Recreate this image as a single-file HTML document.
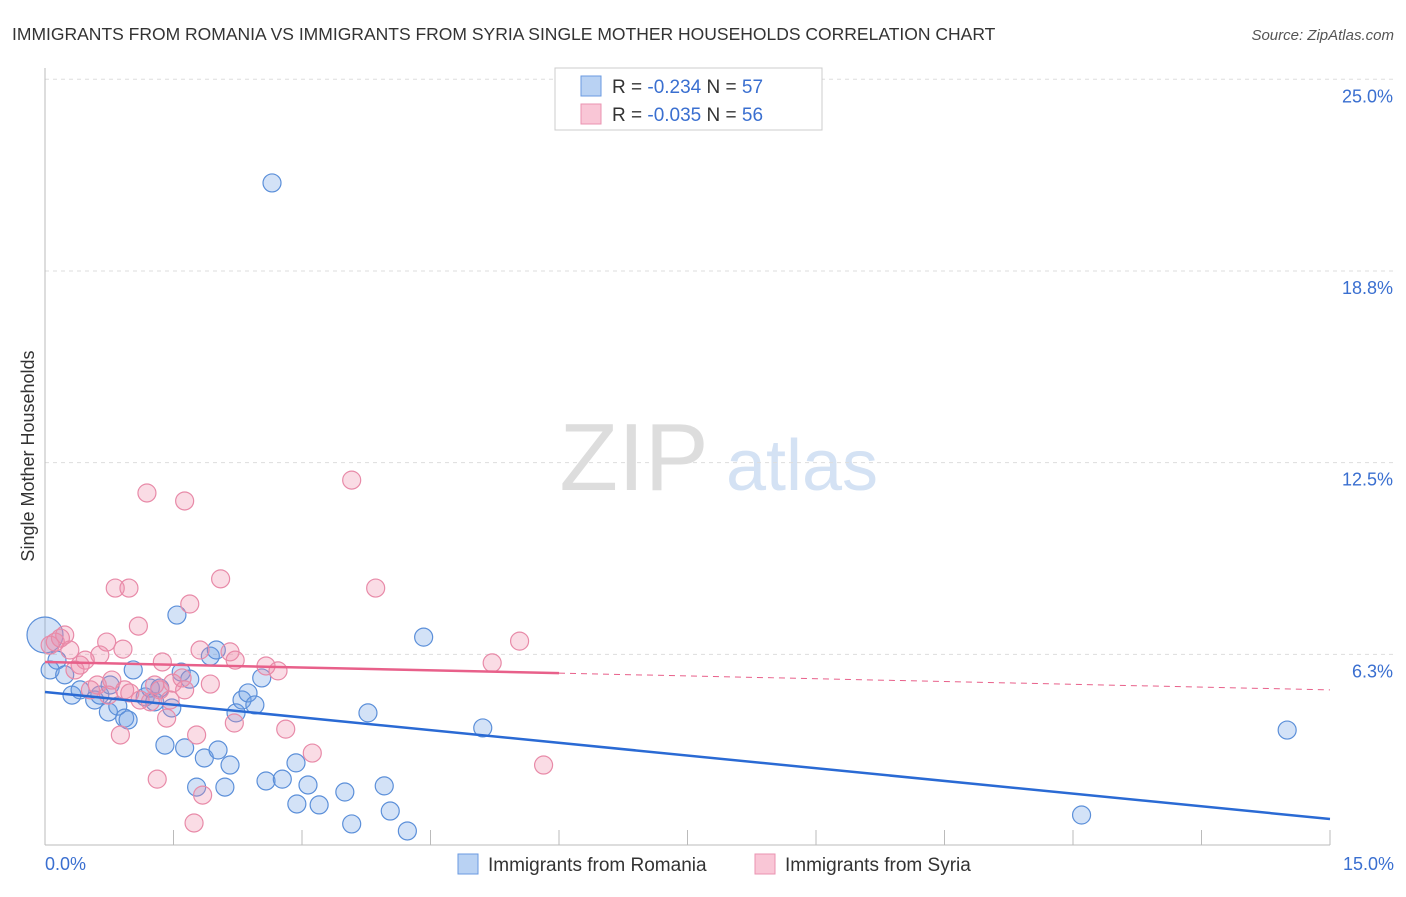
<!DOCTYPE html>
<html><head><meta charset="utf-8"><style>
body{margin:0;background:#fff;font-family:"Liberation Sans",sans-serif;}
svg text{font-family:"Liberation Sans",sans-serif;}
</style></head><body>
<svg width="1406" height="892" xmlns="http://www.w3.org/2000/svg">
<text x="12" y="40" font-size="17.5" fill="#333">IMMIGRANTS FROM ROMANIA VS IMMIGRANTS FROM SYRIA SINGLE MOTHER HOUSEHOLDS CORRELATION CHART</text>
<text x="1394" y="40" font-size="15" fill="#555" text-anchor="end" font-style="italic">Source: ZipAtlas.com</text>
<g>
<text x="634" y="490" font-size="96" fill="#ddd" text-anchor="middle" font-family="Liberation Serif, serif">ZIP</text>
<text x="802" y="490" font-size="72" fill="#d4e2f4" text-anchor="middle">atlas</text>
</g>
<g id="grid"></g>
<g id="axes"></g>
<g id="marks"></g>
<g>
<rect x="555" y="68" width="267" height="62" fill="#fff" stroke="#ccc"/>
<rect x="581" y="76" width="20" height="20" fill="#b9d2f3" stroke="#6a9ae0"/>
<rect x="581" y="104" width="20" height="20" fill="#f9c6d6" stroke="#ea93b0"/>
<text x="612" y="93" font-size="19" fill="#333">R = <tspan fill="#3a6fd0">-0.234</tspan>    N = <tspan fill="#3a6fd0">57</tspan></text>
<text x="612" y="121" font-size="19" fill="#333">R = <tspan fill="#3a6fd0">-0.035</tspan>    N = <tspan fill="#3a6fd0">56</tspan></text>
</g>
<g>
<rect x="458" y="854" width="20" height="20" fill="#b9d2f3" stroke="#6a9ae0"/>
<text x="488" y="871" font-size="19" fill="#333">Immigrants from Romania</text>
<rect x="755" y="854" width="20" height="20" fill="#f9c6d6" stroke="#ea93b0"/>
<text x="785" y="871" font-size="19" fill="#333">Immigrants from Syria</text>
</g>
<text transform="translate(34,456) rotate(-90)" font-size="18" fill="#333" text-anchor="middle">Single Mother Households</text>
</svg>
<script>
const yTicks=[6.25,12.5,18.75,25];
const yTickLabels=["6.3%","12.5%","18.8%","25.0%"];
const romaniaX=[2.65,0,0.06,0.14,0.23,0.315,0.41,0.58,0.64,0.74,0.85,0.93,0.97,1.03,0.76,1.17,1.23,1.28,1.34,1.40,1.48,1.54,1.59,1.63,1.69,1.77,1.86,1.93,2.00,2.02,2.10,2.16,2.23,2.30,2.37,2.45,2.53,2.58,2.77,2.93,2.94,3.07,3.20,3.50,3.58,3.96,4.03,4.23,3.77,4.42,5.11,12.10,14.50];
const romaniaY=[21.62,6.88,5.74,6.06,5.58,4.92,5.09,4.76,4.92,4.37,4.56,4.17,4.11,5.74,5.25,4.86,5.15,4.70,5.15,3.29,4.50,7.53,5.67,3.20,5.44,1.92,2.87,6.19,6.39,3.13,1.92,2.64,4.34,4.76,4.99,4.60,5.48,2.12,2.18,2.71,1.37,1.99,1.34,1.76,0.72,1.96,1.14,0.49,4.34,6.81,3.85,1.01,3.78];
const syriaX=[1.19,1.63,3.58,0.82,0.98,2.05,3.86,1.69,1.09,5.54,0.72,0.91,0.23,0.12,0.29,0.64,0.47,0.41,1.37,1.81,2.16,2.58,2.72,5.22,1.93,1.49,1.60,0.78,0.61,0.93,1.11,1.46,0.88,1.42,1.77,2.21,2.81,3.12,1.31,1.84,1.74,5.82,0.06,0.18,0.35,0.53,0.99,1.34,1.28,0.74,1.23,1.63,2.22];
const syriaY=[11.51,11.25,11.93,8.41,8.41,8.71,8.41,7.89,7.17,6.68,6.65,6.42,6.88,6.65,6.39,6.23,6.06,5.90,6.00,6.39,6.33,5.87,5.71,5.97,5.28,5.31,5.48,5.41,5.25,5.09,4.76,4.76,3.62,4.17,3.62,4.01,3.81,3.03,2.18,1.66,0.75,2.64,6.55,6.78,5.74,5.09,4.99,5.09,5.25,4.92,4.70,5.09,6.06];
const romaniaTrend=[5.02,0.88];
const syriaTrend=[6.0,5.09];
const syriaSolidEnd=6.0;

const NS="http://www.w3.org/2000/svg";
const X=v=>45+v/15*1285;
const Y=v=>846-v*30.67;
function mk(t,a,p){const e=document.createElementNS(NS,t);for(const k in a)e.setAttribute(k,a[k]);p.appendChild(e);return e;}
const grid=document.getElementById('grid'),axes=document.getElementById('axes'),marks=document.getElementById('marks');
yTicks.forEach((t,i)=>{
 const l=mk('line',{x1:45,x2:1394,y1:Y(t),y2:Y(t),stroke:'#ddd','stroke-dasharray':'4,4'},grid);
 
 
 const tx=mk('text',{x:1393,y:Y(t)+23,'font-size':18,fill:'#3a6fd0','text-anchor':'end'},grid);
 tx.textContent=yTickLabels[i];
 
 
});
const ax=mk('line',{x1:45,x2:45,y1:68,y2:845,stroke:'#bbb'},axes);


const bx=mk('line',{x1:45,x2:1330,y1:845,y2:845,stroke:'#bbb'},axes);


for(let i=0;i<=10;i++){const t=mk('line',{x1:X(i*1.5),x2:X(i*1.5),y1:830,y2:845,stroke:'#bbb'},axes);
 
 }
const x0=mk('text',{x:45,y:870,'font-size':18,fill:'#3a6fd0'},axes);x0.textContent='0.0%';


const x1=mk('text',{x:1394,y:870,'font-size':18,fill:'#3a6fd0','text-anchor':'end'},axes);x1.textContent='15.0%';



function pts(xs,ys,fill,stroke,name){xs.forEach((x,i)=>{
 const c=mk('circle',{cx:X(x),cy:Y(ys[i]),r:(x===0&&name==='romania-point')?18:9,fill:fill,stroke:stroke,'stroke-width':1.2},marks);
 
 });}
pts(romaniaX,romaniaY,'rgba(110,160,230,0.3)','#5b8fd9','romania-point');
pts(syriaX,syriaY,'rgba(240,140,170,0.3)','#e88aa8','syria-point');
const bl=mk('line',{x1:X(0),y1:Y(romaniaTrend[0]),x2:X(15),y2:Y(romaniaTrend[1]),stroke:'#2a6ad4','stroke-width':2.5},marks);


const sv=v=>syriaTrend[0]+(syriaTrend[1]-syriaTrend[0])*v/15;
const pl=mk('line',{x1:X(0),y1:Y(sv(0)),x2:X(syriaSolidEnd),y2:Y(sv(syriaSolidEnd)),stroke:'#e8608a','stroke-width':2.5},marks);


const pd=mk('line',{x1:X(syriaSolidEnd),y1:Y(sv(syriaSolidEnd)),x2:X(15),y2:Y(sv(15)),stroke:'#e8608a','stroke-width':1,'stroke-dasharray':'6,5'},marks);


</script>
</body></html>
